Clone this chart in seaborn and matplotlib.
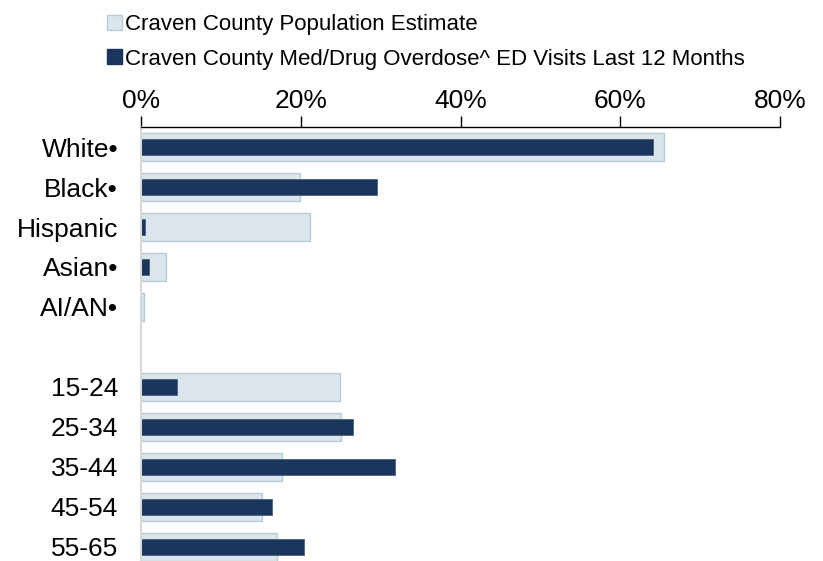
import numpy as np
import pandas as pd
import matplotlib
matplotlib.use("Agg")
import matplotlib.pyplot as plt
import seaborn as sns
from matplotlib.patches import Patch
from matplotlib.ticker import FuncFormatter

# categories top to bottom, blank row separates race from age groups
groups = ['White•', 'Black•', 'Hispanic', 'Asian•', 'AI/AN•', '',
          '15-24', '25-34', '35-44', '45-54', '55-65']
pop_est = [65.5, 19.9, 21.2, 3.1, 0.4, np.nan, 24.9, 25.1, 17.6, 15.2, 17.0]
ed_visits = [64.1, 29.5, 0.5, 1.0, 0.0, np.nan, 4.5, 26.6, 31.8, 16.4, 20.4]
x_ticks = [0, 20, 40, 60, 80]
legend_labels = ['Craven County Population Estimate',
                 'Craven County Med/Drug Overdose^ ED Visits Last 12 Months']

pop_color = '#DAE5EC'
pop_edge = '#B5CCD8'
ed_color = '#1B365D'

df = pd.DataFrame({'group': groups, 'pop': pop_est, 'ed': ed_visits})

sns.set_style('white')
plt.rcParams['font.family'] = ['Liberation Sans', 'DejaVu Sans']
plt.rcParams['text.color'] = 'black'
plt.rcParams['xtick.color'] = 'black'
plt.rcParams['ytick.color'] = 'black'

fig = plt.figure(figsize=(8.23, 5.61), dpi=100)
ax = fig.add_axes([141 / 823, 1 - 567 / 561, 639 / 823, 440 / 561])

sns.barplot(data=df, x='pop', y='group', order=groups, color=pop_color,
            edgecolor=pop_edge, linewidth=1.0, width=0.68, saturation=1, ax=ax)
sns.barplot(data=df, x='ed', y='group', order=groups, color=ed_color,
            edgecolor='#4A6280', linewidth=0.6, width=0.38, saturation=1, ax=ax)

ax.set_xlim(0, 80)
ax.set_ylim(10.5, -0.5)
ax.set_xticks(x_ticks)
ax.xaxis.set_major_formatter(FuncFormatter(lambda v, p: f'{v:.0f}%'))
ax.xaxis.tick_top()
ax.tick_params(axis='x', top=True, direction='out', length=8, width=1,
               color='black', labelsize=19, pad=2)
ax.tick_params(axis='y', left=False, labelsize=19, pad=13)
ax.set_xlabel('')
ax.set_ylabel('')

for s in ['right', 'bottom']:
    ax.spines[s].set_visible(False)
ax.spines['top'].set_color('black')
ax.spines['top'].set_linewidth(1)
ax.spines['left'].set_color('#D9D9D9')
ax.spines['left'].set_linewidth(1.5)

handles = [Patch(facecolor=pop_color, edgecolor=pop_edge),
           Patch(facecolor=ed_color, edgecolor=ed_color)]
fig.legend(handles, legend_labels, loc='upper left',
           bbox_to_anchor=(95 / 823, 0.997), frameon=False, fontsize=16,
           handlelength=0.65, handleheight=0.65, handletextpad=0.15,
           labelspacing=0.62, borderaxespad=0.15)

fig.savefig('out.png', dpi=100)
